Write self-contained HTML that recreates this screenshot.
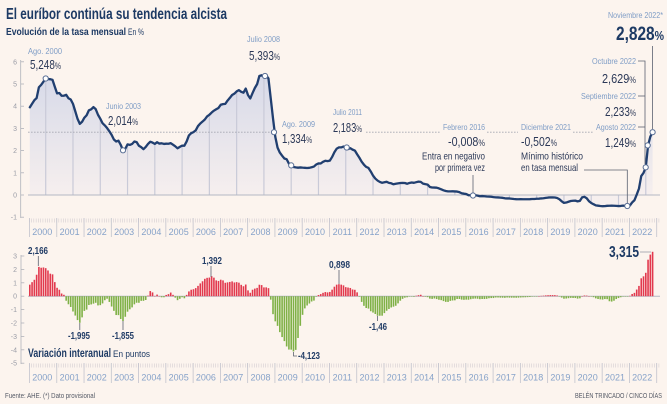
<!DOCTYPE html>
<html><head><meta charset="utf-8">
<style>
html,body{margin:0;padding:0;background:#fcf4ee;}
svg{display:block;font-family:"Liberation Sans",sans-serif;}
</style></head>
<body>
<svg id="c" width="667" height="404" viewBox="0 0 667 404" xmlns="http://www.w3.org/2000/svg">
<defs>
<linearGradient id="g" x1="0" y1="60" x2="0" y2="195" gradientUnits="userSpaceOnUse">
<stop offset="0" stop-color="#d3d7e8"/><stop offset="1" stop-color="#f6efee"/>
</linearGradient>
</defs>
<rect width="667" height="404" fill="#fcf4ee"/>
<g id="area"></g>
<g id="drops" stroke="#c9cad8" stroke-width="1.2"></g>
<!-- dashed reference line at 2.828 -->
<g stroke="#a6a8b2" stroke-width="0.8" stroke-dasharray="1.6 1.4">
<line x1="28" y1="132.2" x2="272" y2="132.2"/>
<line x1="366" y1="132.2" x2="440" y2="132.2"/>
<line x1="487" y1="132.2" x2="518" y2="132.2"/>
<line x1="573" y1="132.2" x2="594" y2="132.2"/>
</g>
<line x1="28" y1="195" x2="660" y2="195" stroke="#b5b8c4" stroke-width="1"/>
<line x1="28" y1="296.2" x2="660" y2="296.2" stroke="#b5b8c4" stroke-width="1"/>
<g id="bars"></g>
<g id="ticks" stroke="#cdc6cc" stroke-width="0.5"></g>
<g id="seps" stroke="#c2c3cd" stroke-width="0.8"></g>
<g id="line"></g>

<!-- y axes -->
<g stroke="#b0b2ba" stroke-width="0.8">
<line x1="20.7" y1="60" x2="20.7" y2="218"/>
<line x1="20.7" y1="61.8" x2="24" y2="61.8"/><line x1="20.7" y1="84" x2="24" y2="84"/><line x1="20.7" y1="106.2" x2="24" y2="106.2"/><line x1="20.7" y1="128.4" x2="24" y2="128.4"/><line x1="20.7" y1="150.6" x2="24" y2="150.6"/><line x1="20.7" y1="172.8" x2="24" y2="172.8"/><line x1="20.7" y1="195" x2="24" y2="195"/><line x1="20.7" y1="217.2" x2="24" y2="217.2"/>
<line x1="21" y1="255" x2="21" y2="364"/>
<line x1="21" y1="256" x2="24.3" y2="256"/><line x1="21" y1="269.4" x2="24.3" y2="269.4"/><line x1="21" y1="282.8" x2="24.3" y2="282.8"/><line x1="21" y1="296.2" x2="24.3" y2="296.2"/><line x1="21" y1="309.6" x2="24.3" y2="309.6"/><line x1="21" y1="323" x2="24.3" y2="323"/><line x1="21" y1="336.4" x2="24.3" y2="336.4"/><line x1="21" y1="349.8" x2="24.3" y2="349.8"/><line x1="21" y1="363.2" x2="24.3" y2="363.2"/>
</g>
<g font-size="7" fill="#9a9ca6" text-anchor="end">
<text x="17" y="64.3">6</text><text x="17" y="86.5">5</text><text x="17" y="108.7">4</text><text x="17" y="130.9">3</text><text x="17" y="153.1">2</text><text x="17" y="175.3">1</text><text x="17" y="197.5">0</text><text x="17" y="219.7">-1</text>
<text x="17" y="258.5">3</text><text x="17" y="271.9">2</text><text x="17" y="285.3">1</text><text x="17" y="298.7">0</text><text x="17" y="312.1">-1</text><text x="17" y="325.5">-2</text><text x="17" y="338.9">-3</text><text x="17" y="352.3">-4</text><text x="17" y="365.7">-5</text>
</g>

<!-- leader lines -->
<g stroke="#5b6170" stroke-width="0.8" fill="none">
<polyline points="584,170 627.3,170 627.3,203"/>
<line x1="473" y1="175" x2="473" y2="193"/>
<polyline points="638,61 645,61 645,164"/>
<line x1="638" y1="96" x2="645" y2="96"/>
<line x1="638" y1="127" x2="645" y2="127"/>
<line x1="652.6" y1="46" x2="652.6" y2="129"/>
<line x1="38.3" y1="256" x2="38.3" y2="266"/>
<line x1="211" y1="266" x2="211" y2="277"/>
<line x1="339" y1="270" x2="339" y2="284"/>
<line x1="79.8" y1="323" x2="79.8" y2="330"/>
<line x1="123" y1="321" x2="123" y2="330"/>
<polyline points="293.5,352 293.5,356 297,356"/>
<line x1="377.6" y1="316" x2="377.6" y2="321"/>
<line x1="640" y1="252" x2="651" y2="252" stroke="#9a9ca6"/>
</g>

<!-- markers -->
<g fill="#ffffff" stroke="#5a6f95" stroke-width="1">
<circle cx="45.7" cy="78.5" r="2.6"/>
<circle cx="123" cy="150.3" r="2.6"/>
<circle cx="265" cy="76" r="2.6"/>
<circle cx="274" cy="132.2" r="2.6"/>
<circle cx="291.2" cy="165.4" r="2.6"/>
<circle cx="346.7" cy="147.5" r="2.6"/>
<circle cx="473" cy="195.5" r="2.6"/>
<circle cx="627.3" cy="206" r="2.6"/>
<circle cx="645.7" cy="167.3" r="2.6"/>
<circle cx="647.7" cy="145.4" r="2.6"/>
<circle cx="652.6" cy="132.2" r="2.6"/>
</g>

<!-- title -->
<text x="6" y="19" font-size="15.5" font-weight="bold" fill="#1d3a64" textLength="221" lengthAdjust="spacingAndGlyphs">El euríbor continúa su tendencia alcista</text>
<text x="6" y="35" font-size="10" font-weight="bold" fill="#1d3a64" textLength="120" lengthAdjust="spacingAndGlyphs">Evolución de la tasa mensual</text>
<text x="128" y="35" font-size="9" fill="#1d3a64" textLength="16" lengthAdjust="spacingAndGlyphs">En %</text>

<!-- month labels -->
<g font-size="8.5" fill="#7f9dc6">
<text x="28" y="54" textLength="34" lengthAdjust="spacingAndGlyphs">Ago. 2000</text>
<text x="247" y="42" textLength="33" lengthAdjust="spacingAndGlyphs">Julio 2008</text>
<text x="106" y="109" textLength="35" lengthAdjust="spacingAndGlyphs">Junio 2003</text>
<text x="282" y="127" textLength="33" lengthAdjust="spacingAndGlyphs">Ago. 2009</text>
<text x="333" y="115" textLength="29" lengthAdjust="spacingAndGlyphs">Julio 2011</text>
<text x="485" y="130" text-anchor="end" textLength="42" lengthAdjust="spacingAndGlyphs">Febrero 2016</text>
<text x="521" y="130" textLength="50" lengthAdjust="spacingAndGlyphs">Diciembre 2021</text>
<text x="636" y="130" text-anchor="end" textLength="40" lengthAdjust="spacingAndGlyphs">Agosto 2022</text>
<text x="636" y="99" text-anchor="end" textLength="55" lengthAdjust="spacingAndGlyphs">Septiembre 2022</text>
<text x="636" y="64" text-anchor="end" textLength="44" lengthAdjust="spacingAndGlyphs">Octubre 2022</text>
<text x="663" y="18" text-anchor="end" textLength="55" lengthAdjust="spacingAndGlyphs">Noviembre 2022*</text>
</g>

<!-- values -->
<g font-size="13" fill="#2b3857">
<text x="30" y="69" textLength="31" lengthAdjust="spacingAndGlyphs">5,248<tspan font-size="9">%</tspan></text>
<text x="249" y="60" textLength="31" lengthAdjust="spacingAndGlyphs">5,393<tspan font-size="9">%</tspan></text>
<text x="108" y="125" textLength="30" lengthAdjust="spacingAndGlyphs">2,014<tspan font-size="9">%</tspan></text>
<text x="282" y="143" textLength="30" lengthAdjust="spacingAndGlyphs">1,334<tspan font-size="9">%</tspan></text>
<text x="333" y="132" textLength="29" lengthAdjust="spacingAndGlyphs">2,183<tspan font-size="9">%</tspan></text>
<text x="485" y="146" text-anchor="end" textLength="37" lengthAdjust="spacingAndGlyphs">-0,008<tspan font-size="9">%</tspan></text>
<text x="521" y="146" textLength="36" lengthAdjust="spacingAndGlyphs">-0,502<tspan font-size="9">%</tspan></text>
<text x="636" y="147" text-anchor="end" textLength="31" lengthAdjust="spacingAndGlyphs">1,249<tspan font-size="9">%</tspan></text>
<text x="636" y="116" text-anchor="end" textLength="31" lengthAdjust="spacingAndGlyphs">2,233<tspan font-size="9">%</tspan></text>
<text x="636" y="83" text-anchor="end" textLength="34" lengthAdjust="spacingAndGlyphs">2,629<tspan font-size="9">%</tspan></text>
</g>
<text x="664" y="40" text-anchor="end" font-size="19" font-weight="bold" fill="#1d3a64" textLength="48" lengthAdjust="spacingAndGlyphs">2,828<tspan font-size="13">%</tspan></text>

<g font-size="10.5" fill="#2b3857">
<text x="485" y="159.5" text-anchor="end" textLength="63" lengthAdjust="spacingAndGlyphs">Entra en negativo</text>
<text x="485" y="171" text-anchor="end" textLength="50" lengthAdjust="spacingAndGlyphs">por primera vez</text>
<text x="521" y="159.5" textLength="62" lengthAdjust="spacingAndGlyphs">Mínimo histórico</text>
<text x="521" y="171" textLength="57" lengthAdjust="spacingAndGlyphs">en tasa mensual</text>
</g>

<!-- bottom labels -->
<g font-size="10" font-weight="bold" fill="#213c66">
<text x="28" y="254" textLength="20" lengthAdjust="spacingAndGlyphs">2,166</text>
<text x="202" y="264" textLength="20" lengthAdjust="spacingAndGlyphs">1,392</text>
<text x="329" y="268" textLength="21" lengthAdjust="spacingAndGlyphs">0,898</text>
<text x="68" y="339" textLength="22" lengthAdjust="spacingAndGlyphs">-1,995</text>
<text x="112" y="339" textLength="22" lengthAdjust="spacingAndGlyphs">-1,855</text>
<text x="298" y="359" textLength="22" lengthAdjust="spacingAndGlyphs">-4,123</text>
<text x="369" y="330" textLength="18" lengthAdjust="spacingAndGlyphs">-1,46</text>
</g>
<text x="609" y="257" font-size="15.5" font-weight="bold" fill="#1d3a64" textLength="30" lengthAdjust="spacingAndGlyphs">3,315</text>
<text x="28" y="357" font-size="11.5" font-weight="bold" fill="#1d3a64" textLength="83" lengthAdjust="spacingAndGlyphs">Variación interanual</text>
<text x="113" y="357" font-size="9.5" fill="#1d3a64" textLength="37" lengthAdjust="spacingAndGlyphs">En puntos</text>

<!-- year labels top -->
<g font-size="9" fill="#86a2c9" text-anchor="middle">
<text x="42.3" y="235">2000</text><text x="69.6" y="235">2001</text><text x="96.8" y="235">2002</text><text x="124.1" y="235">2003</text><text x="151.4" y="235">2004</text><text x="178.7" y="235">2005</text><text x="205.9" y="235">2006</text><text x="233.2" y="235">2007</text><text x="260.5" y="235">2008</text><text x="287.7" y="235">2009</text><text x="315" y="235">2010</text><text x="342.3" y="235">2011</text><text x="369.5" y="235">2012</text><text x="396.8" y="235">2013</text><text x="424.1" y="235">2014</text><text x="451.4" y="235">2015</text><text x="478.6" y="235">2016</text><text x="505.9" y="235">2017</text><text x="533.2" y="235">2018</text><text x="560.4" y="235">2019</text><text x="587.7" y="235">2020</text><text x="615" y="235">2021</text><text x="642.2" y="235">2022</text>
</g>
<g font-size="9" fill="#86a2c9" text-anchor="middle">
<text x="42.3" y="380.5">2000</text><text x="69.6" y="380.5">2001</text><text x="96.8" y="380.5">2002</text><text x="124.1" y="380.5">2003</text><text x="151.4" y="380.5">2004</text><text x="178.7" y="380.5">2005</text><text x="205.9" y="380.5">2006</text><text x="233.2" y="380.5">2007</text><text x="260.5" y="380.5">2008</text><text x="287.7" y="380.5">2009</text><text x="315" y="380.5">2010</text><text x="342.3" y="380.5">2011</text><text x="369.5" y="380.5">2012</text><text x="396.8" y="380.5">2013</text><text x="424.1" y="380.5">2014</text><text x="451.4" y="380.5">2015</text><text x="478.6" y="380.5">2016</text><text x="505.9" y="380.5">2017</text><text x="533.2" y="380.5">2018</text><text x="560.4" y="380.5">2019</text><text x="587.7" y="380.5">2020</text><text x="615" y="380.5">2021</text><text x="642.2" y="380.5">2022</text>
</g>

<!-- footer -->
<text x="5" y="398" font-size="7" fill="#555a66" textLength="90" lengthAdjust="spacingAndGlyphs">Fuente: AHE. (*) Dato provisional</text>
<text x="662" y="398" text-anchor="end" font-size="7" fill="#555a66" textLength="87" lengthAdjust="spacingAndGlyphs">BELÉN TRINCADO / CINCO DÍAS</text>
</svg>
<script>
(function(){
var d=[3.949,4.112,4.270,4.367,4.853,4.961,5.105,5.248,5.218,5.216,5.188,4.877,
4.577,4.595,4.471,4.473,4.515,4.359,4.302,4.106,3.773,3.434,3.204,3.298,
3.480,3.594,3.816,3.859,3.958,3.867,3.615,3.437,3.233,3.134,3.016,2.870,
2.709,2.502,2.410,2.446,2.258,2.014,2.079,2.281,2.257,2.298,2.409,2.381,
2.218,2.155,2.063,2.163,2.301,2.399,2.361,2.302,2.377,2.316,2.328,2.301,
2.312,2.310,2.335,2.265,2.193,2.103,2.168,2.223,2.221,2.414,2.684,2.783,
2.833,2.914,3.105,3.221,3.308,3.401,3.539,3.615,3.715,3.799,3.864,3.921,
4.064,4.094,4.106,4.253,4.373,4.505,4.564,4.666,4.725,4.647,4.607,4.793,
4.498,4.349,4.590,4.820,4.994,5.361,5.393,5.323,5.384,5.248,4.350,3.452,
2.622,2.135,1.909,1.771,1.644,1.610,1.412,1.334,1.261,1.243,1.231,1.242,
1.232,1.225,1.215,1.225,1.249,1.281,1.373,1.421,1.420,1.495,1.541,1.526,
1.550,1.714,1.924,2.086,2.147,2.144,2.183,2.097,2.067,2.110,2.044,2.004,
1.837,1.678,1.499,1.368,1.266,1.219,1.061,0.877,0.740,0.650,0.588,0.549,
0.575,0.594,0.545,0.528,0.484,0.507,0.525,0.542,0.543,0.541,0.506,0.543,
0.562,0.549,0.577,0.604,0.592,0.513,0.488,0.469,0.362,0.338,0.335,0.329,
0.298,0.255,0.212,0.180,0.165,0.163,0.167,0.161,0.154,0.128,0.079,0.059,
0.042,-0.008,-0.012,-0.010,-0.013,-0.028,-0.056,-0.048,-0.057,-0.069,-0.074,-0.080,
-0.095,-0.106,-0.110,-0.119,-0.127,-0.149,-0.154,-0.156,-0.168,-0.180,-0.189,-0.190,
-0.189,-0.191,-0.191,-0.190,-0.188,-0.181,-0.180,-0.169,-0.166,-0.154,-0.147,-0.129,
-0.116,-0.108,-0.109,-0.112,-0.134,-0.190,-0.283,-0.356,-0.339,-0.304,-0.271,-0.261,
-0.253,-0.288,-0.266,-0.108,-0.081,-0.147,-0.279,-0.359,-0.415,-0.466,-0.481,-0.497,
-0.505,-0.501,-0.487,-0.484,-0.481,-0.484,-0.491,-0.498,-0.492,-0.477,-0.487,-0.502,
-0.477,-0.335,-0.237,0.013,0.287,0.852,0.992,1.249,2.233,2.629,2.828];
var d99=[3.087,3.064,3.046,2.765,2.667,2.837,2.960,3.155,3.297,3.535,3.557,3.826];
var ns="http://www.w3.org/2000/svg";
function el(tag,a,p){var e=document.createElementNS(ns,tag);for(var k in a)e.setAttribute(k,a[k]);p.appendChild(e);return e;}
function X(i){return 29.8+i*2.273;}
function Y(v){return 195-v*22.2;}
function Y2(v){return 296.2-v*13.4;}
var n=d.length,pts=[];
for(var i=0;i<n;i++)pts.push(X(i).toFixed(2)+","+Y(d[i]).toFixed(2));
el("path",{d:"M"+X(0).toFixed(2)+",195L"+pts.join("L")+"L"+X(n-1).toFixed(2)+",195Z",fill:"url(#g)"},document.getElementById("area"));
var gd=document.getElementById("drops");
for(i=7;i<n;i+=12)el("line",{x1:X(i),x2:X(i),y1:Y(d[i]),y2:195},gd);
el("path",{d:"M"+pts.join("L"),fill:"none",stroke:"#213f70","stroke-width":"2.3","stroke-linejoin":"round","stroke-linecap":"round"},document.getElementById("line"));
var gb=document.getElementById("bars");
for(i=0;i<n;i++){
 var v=d[i]-(i<12?d99[i]:d[i-12]);
 var y0=Y2(0),y1=Y2(v);
 el("rect",{x:(X(i)-0.8).toFixed(2),y:Math.min(y0,y1).toFixed(2),width:"1.6",height:Math.max(0.4,Math.abs(y1-y0)).toFixed(2),fill:v>=0?"#e2394e":"#7fb146"},gb);
}
var gt=document.getElementById("ticks");
for(i=0;i<=277;i++){
 var x=(29.3+i*2.273).toFixed(2);
 el("line",{x1:x,x2:x,y1:218.5,y2:222.5},gt);
 el("line",{x1:x,x2:x,y1:363.5,y2:367.5},gt);
}
var gs=document.getElementById("seps");
for(var k=0;k<=23;k++){
 var xs=(29.5+k*27.27).toFixed(2);
 el("line",{x1:xs,x2:xs,y1:218,y2:237},gs);
 el("line",{x1:xs,x2:xs,y1:363,y2:383},gs);
}
})();
</script>
</body></html>
